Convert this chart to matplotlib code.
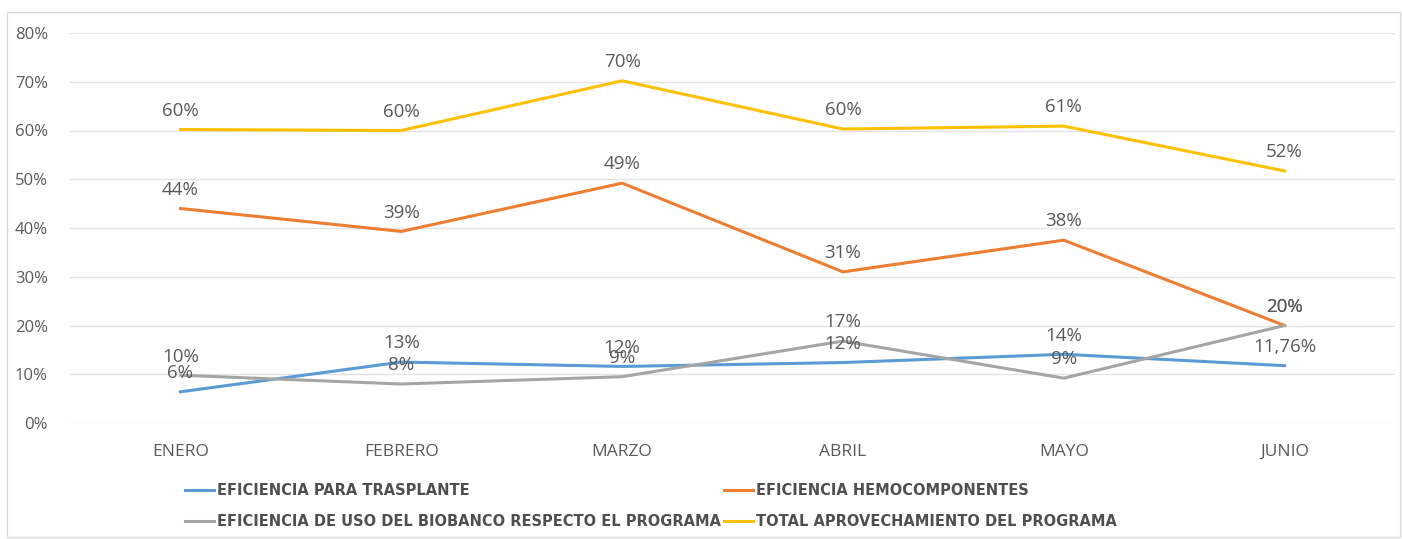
import matplotlib
matplotlib.use("Agg")
import matplotlib.pyplot as plt
from matplotlib.patches import Rectangle
from matplotlib.ticker import PercentFormatter

meses = ["ENERO", "FEBRERO", "MARZO", "ABRIL", "MAYO", "JUNIO"]

trasplante = [6.4, 12.5, 11.6, 12.4, 14.1, 11.76]
hemocomp = [44.0, 39.3, 49.2, 31.0, 37.5, 20.0]
biobanco = [9.8, 8.0, 9.5, 16.8, 9.2, 20.0]
total = [60.2, 60.0, 70.2, 60.3, 60.9, 51.7]

lbl_trasplante = ["6%", "13%", "12%", "12%", "14%", "11,76%"]
lbl_hemocomp = ["44%", "39%", "49%", "31%", "38%", "20%"]
lbl_biobanco = ["10%", "8%", "9%", "17%", "9%", "20%"]
lbl_total = ["60%", "60%", "70%", "60%", "61%", "52%"]

nombres = ["EFICIENCIA PARA TRASPLANTE", "EFICIENCIA HEMOCOMPONENTES",
           "EFICIENCIA DE USO DEL BIOBANCO RESPECTO EL PROGRAMA",
           "TOTAL APROVECHAMIENTO DEL PROGRAMA"]
colores = ["#5B9BD5", "#ED7D31", "#A5A5A5", "#FFC000"]

txt = "#595959"
plt.rcParams['font.family'] = ['Open Sans', 'DejaVu Sans']

fig = plt.figure(figsize=(14.02, 5.39), dpi=100)
fig.patches.append(Rectangle((7 / 1402, 2 / 539), 1393 / 1402, 525 / 539,
                             transform=fig.transFigure, fill=False,
                             edgecolor="#D9D9D9", linewidth=1))
ax = fig.add_axes([70 / 1402, 1 - 423 / 539, 1325 / 1402, 390 / 539])

x = list(range(len(meses)))
series = [(trasplante, lbl_trasplante), (hemocomp, lbl_hemocomp),
          (biobanco, lbl_biobanco), (total, lbl_total)]
lines = []
for (vals, lbls), nom, col in zip(series, nombres, colores):
    ln, = ax.plot(x, vals, color=col, linewidth=2.2, label=nom, zorder=3)
    lines.append(ln)
    for xi, v, t in zip(x, vals, lbls):
        ax.annotate(t, (xi, v), xytext=(0, 7), textcoords="offset points",
                    ha="center", va="bottom", fontsize=13.5, color=txt, zorder=4)

ax.set_xlim(-0.5, 5.5)
ax.set_ylim(0, 80)
ax.set_yticks(range(0, 81, 10))
ax.yaxis.set_major_formatter(PercentFormatter(decimals=0))
ax.set_xticks(x)
ax.set_xticklabels(meses)
ax.tick_params(axis="both", length=0, labelsize=12, labelcolor=txt)
ax.tick_params(axis="x", labelsize=12.5, pad=15)
ax.tick_params(axis="y", pad=16)
ax.grid(axis="y", color="#E3E3E3", linewidth=1)
ax.set_axisbelow(True)
for s in ax.spines.values():
    s.set_visible(False)

orden = [lines[0], lines[2], lines[1], lines[3]]
leg = fig.legend(orden, [l.get_label() for l in orden], ncol=2,
                 loc="center left", bbox_to_anchor=(172 / 1402, 1 - 506 / 539),
                 frameon=False, handlelength=2.0, handletextpad=0.2,
                 columnspacing=0.2, labelspacing=1.1,
                 prop={'family': ['Liberation Sans Narrow', 'DejaVu Sans'],
                       'weight': 'bold', 'size': 10.5})
for t in leg.get_texts():
    t.set_color("#4F4F4F")

fig.savefig("out.png", dpi=100)
